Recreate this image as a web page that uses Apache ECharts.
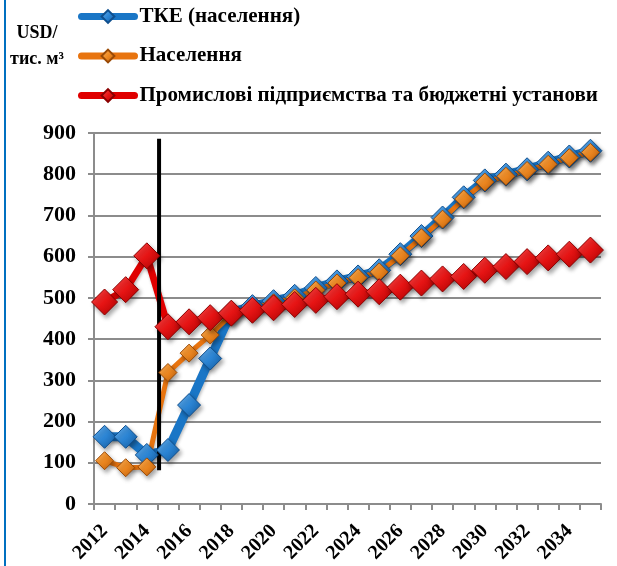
<!DOCTYPE html>
<html>
<head>
<meta charset="utf-8">
<script src="https://cdn.jsdelivr.net/npm/echarts@6/dist/echarts.min.js"></script>
<style>
  html, body { margin: 0; padding: 0; background: #fff; }
  #main { width: 617px; height: 566px; }
</style>
</head>
<body>
<div id="main"></div>
<script>
var years = ['2012','2013','2014','2015','2016','2017','2018','2019','2020','2021','2022','2023',
             '2024','2025','2026','2027','2028','2029','2030','2031','2032','2033','2034','2035'];
var tkeVals = [163,163,119,131,240,353,465,480,492,505,524,540,552,567,606,650,695,744,785,799,812,828,843,857];
var naselVals = [105,88,90,319,366,410,460,476,488,500,519,536,549,563,602,646,691,740,781,795,809,824,840,853];
var promVals = [490,520,602,430,442,452,463,470,476,484,494,503,509,515,526,536,546,552,567,576,588,597,606,616];
var names = ['ТКЕ (населення)', 'Населення', 'Промислові підприємства та бюджетні установи'];
// divider between 2014 and 2015, in category units
var dividerLine = [[3.08, 82], [3.08, 886]];

var font = '"Liberation Serif", "Times New Roman", serif';

function grad(light, mid, dark){
    return new echarts.graphic.LinearGradient(0, 0, 1, 1, [
        {offset: 0, color: light},
        {offset: 0.5, color: mid},
        {offset: 1, color: dark}
    ]);
}

function lineSeries(name, data, lineColor, width, size, light, mid, dark, border){
    return {
        name: name,
        type: 'line',
        data: data,
        symbol: 'diamond',
        symbolSize: size,
        showAllSymbol: true,
        lineStyle: {
            color: lineColor, width: width, cap: 'round', join: 'round',
            shadowColor: 'rgba(0,0,0,0.25)', shadowBlur: 3, shadowOffsetX: 1, shadowOffsetY: 2
        },
        itemStyle: {
            color: grad(light, mid, dark),
            borderColor: border,
            borderWidth: 1,
            shadowColor: 'rgba(0,0,0,0.35)',
            shadowBlur: 4,
            shadowOffsetX: 2,
            shadowOffsetY: 3
        },
        emphasis: {disabled: true},
        animation: false
    };
}

var myChart = echarts.init(document.getElementById('main'));
var option = {
    backgroundColor: '#fff',
    animation: false,
    grid: {left: 94, right: 16, top: 133, bottom: 62, containLabel: false},
    legend: {
        orient: 'vertical',
        left: 73,
        top: 1,
        itemWidth: 53,
        itemHeight: 16,
        itemGap: 18.5,
        data: names,
        lineStyle: {width: 7, cap: 'round'},
        itemStyle: {shadowBlur: 0, shadowOffsetX: 0, shadowOffsetY: 0},
        textStyle: {fontFamily: font, fontWeight: 'bold', fontSize: 21, color: '#000'}
    },
    graphic: [
        {type: 'rect', left: 4, top: 0, shape: {width: 2, height: 566}, style: {fill: '#0070C0'}},
        {type: 'text', x: 37, y: 20, style: {
            text: 'USD/\nтис. м³', align: 'center', lineHeight: 26,
            font: 'bold 18px ' + font, fill: '#000'
        }}
    ],
    xAxis: [
        {
            type: 'category',
            data: years,
            boundaryGap: true,
            axisLine: {lineStyle: {color: '#8c8c8c', width: 2}},
            axisTick: {show: true, interval: 0, length: 6, lineStyle: {color: '#8c8c8c', width: 2}},
            axisLabel: {interval: 1, rotate: 45, margin: 24, fontFamily: font, fontWeight: 'bold', fontSize: 20, color: '#000'},
            splitLine: {show: false}
        },
        {
            type: 'value', min: 0, max: 24, show: false
        }
    ],
    yAxis: {
        type: 'value',
        min: 0, max: 900, interval: 100,
        axisLine: {show: true, lineStyle: {color: '#8c8c8c', width: 2}},
        axisTick: {show: true, length: 6, lineStyle: {color: '#8c8c8c', width: 2}},
        axisLabel: {margin: 18, fontFamily: font, fontWeight: 'bold', fontSize: 22, color: '#000'},
        splitLine: {lineStyle: {color: '#8c8c8c', width: 2}}
    },
    series: [
        lineSeries(names[0], tkeVals, '#1a76c6', 9, 23, '#6fb3ec', '#2c86d6', '#12579a', '#0f4f8e'),
        lineSeries(names[1], naselVals, '#e8740f', 5, 18, '#fbb35e', '#f08a22', '#b85a08', '#9a4a06'),
        lineSeries(names[2], promVals, '#e00000', 7, 26, '#ff5050', '#e61414', '#a80000', '#8a0000'),
        {
            type: 'line',
            xAxisIndex: 1,
            data: dividerLine,
            symbol: 'none',
            lineStyle: {color: '#000', width: 4},
            silent: true,
            animation: false
        }
    ]
};
myChart.setOption(option);
</script>
</body>
</html>
